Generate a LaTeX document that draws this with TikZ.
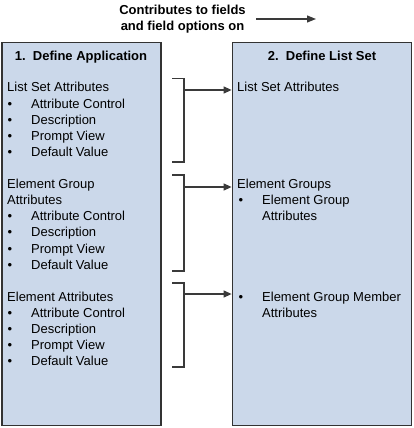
\documentclass[tikz,border=0pt]{standalone}
\usepackage{fontspec}
\setmainfont{Liberation Sans}
\usetikzlibrary{arrows.meta}
\definecolor{boxfill}{HTML}{CBD8EA}
\definecolor{boxline}{HTML}{333333}
\definecolor{linkline}{HTML}{3A3A3A}
\begin{document}
\begin{tikzpicture}[x=1pt, y=-1pt, font=\fontsize{13}{16.1}\selectfont, line join=miter, >={Triangle[length=8pt,width=7pt]},
		panel/.style={draw=boxline, fill=boxfill, line width=1.8pt, inner sep=0},
		hd/.style={font=\fontsize{13}{16.3}\selectfont\bfseries, inner sep=0},
		txt/.style={anchor=base west, inner sep=0},
		bul/.style={anchor=base, inner sep=0},
		brk/.style={draw=linkline, line width=1.2pt},
		conn/.style={draw=linkline, line width=1.2pt, ->}]
			\useasboundingbox (0,0) rectangle (414,428);
			\def\ls{16.1}\def\yo{92}
			\node[hd, align=center] (note) at (182.5,19.2) {Contributes to fields\\and field options on};
			\coordinate (k1) at (256,19);\coordinate (k2) at (316,19);
			\draw[conn, >={Triangle[length=9pt,width=7pt]}] (k1)--(k2);
			\node[panel, minimum width=159, minimum height=383] (app) at (81.5,234) {};
			\node[panel, minimum width=179, minimum height=383] (set) at (322,234) {};
			\node[hd, anchor=base] (apptitle) at (81,60) {1.\ \ Define Application};
			\node[hd, anchor=base] (settitle) at (322,60) {2.\ \ Define List Set};
			% left column
			\node[txt] (g1) at (7,\yo) {List Set Attributes};
			\node[txt] (g2) at (7,{\yo+6*\ls}) {Element Group};
			\node[txt] (g2b) at (7,{\yo+7*\ls}) {Attributes};
			\node[txt] (g3) at (7,{\yo+13*\ls}) {Element Attributes};
			\foreach \g/\n in {a/1,b/8,c/14}
				\foreach \t [count=\i from 0] in {Attribute Control,Description,Prompt View,Default Value}{
					\node[bul] (\g d\i) at (10,{\yo+(\n+\i)*\ls}) {\textbullet};
					\node[txt] (\g t\i) at (31,{\yo+(\n+\i)*\ls}) {\t};
				}
			% right column
			\node[txt] (r1) at (237,\yo) {List Set Attributes};
			\node[txt] (r2) at (237,{\yo+6*\ls}) {Element Groups};
			\node[bul] (r2d) at (241,{\yo+7*\ls}) {\textbullet};
			\node[txt] (r2t) at (262,{\yo+7*\ls}) {Element Group};
			\node[txt] (r2u) at (262,{\yo+8*\ls}) {Attributes};
			\node[bul] (r3d) at (241,{\yo+13*\ls}) {\textbullet};
			\node[txt] (r3t) at (262,{\yo+13*\ls}) {Element Group Member};
			\node[txt] (r3u) at (262,{\yo+14*\ls}) {Attributes};
			% brackets
			\foreach \j/\a/\b/\m in {1/78.5/162/90,2/175/271/187,3/283/367/294}{
				\draw[brk] (172,\a)--(184,\a)--(184,\b)--(172,\b);
				\coordinate (m\j) at (184,\m);
				\draw[conn] (m\j)--(m\j -| set.west);
			}
		\end{tikzpicture}
\end{document}
